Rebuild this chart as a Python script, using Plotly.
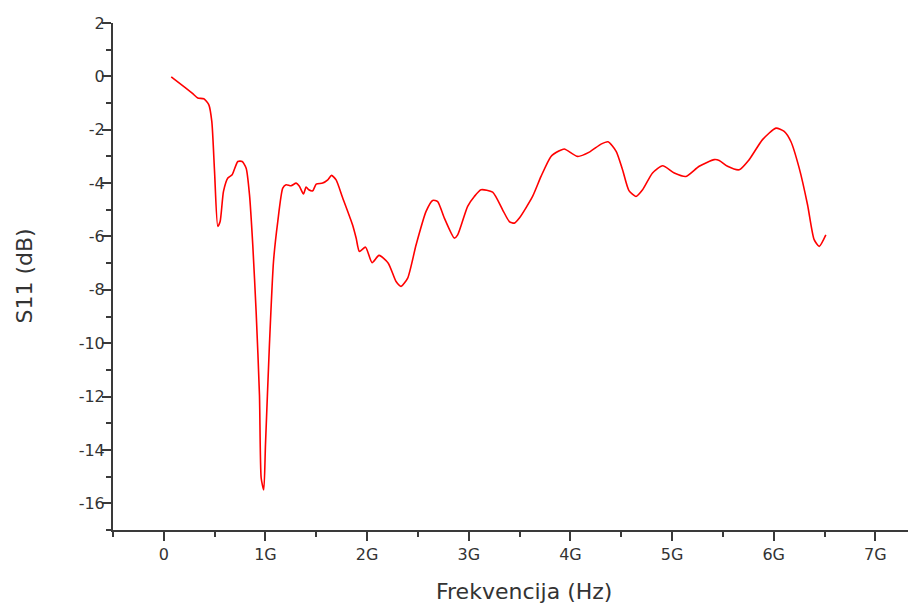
import plotly.graph_objects as go

# Frequency in GHz and S11 in dB
freq_ghz = [0.073, 0.22, 0.285, 0.334, 0.393, 0.442, 0.472, 0.499, 0.531, 0.554, 0.587, 0.630,
            0.672, 0.728, 0.771, 0.810, 0.843, 0.875, 0.908, 0.941, 0.958, 0.983, 1.0, 1.039,
            1.079, 1.121, 1.170, 1.203, 1.252, 1.302, 1.334, 1.374, 1.400, 1.426, 1.465, 1.499,
            1.563, 1.613, 1.650, 1.695, 1.760, 1.858, 1.892, 1.924, 1.985, 2.049, 2.117, 2.208,
            2.285, 2.334, 2.399, 2.482, 2.580, 2.645, 2.694, 2.760, 2.858, 2.891, 2.989, 3.055,
            3.121, 3.235, 3.333, 3.399, 3.448, 3.498, 3.628, 3.711, 3.809, 3.891, 3.940, 4.071,
            4.186, 4.301, 4.370, 4.450, 4.513, 4.576, 4.645, 4.710, 4.808, 4.907, 5.022, 5.137,
            5.267, 5.415, 5.464, 5.546, 5.661, 5.759, 5.890, 6.022, 6.103, 6.169, 6.251, 6.333,
            6.398, 6.448, 6.513]
s11_db = [-0.02, -0.45, -0.65, -0.81, -0.84, -1.06, -1.69, -3.56, -5.62, -5.44, -4.31, -3.81,
          -3.69, -3.19, -3.19, -3.44, -4.44, -6.31, -8.81, -11.94, -15.06, -15.5, -13.81, -10.06,
          -6.94, -5.44, -4.19, -4.06, -4.10, -4.0, -4.12, -4.41, -4.15, -4.25, -4.29, -4.04,
          -4.0, -3.88, -3.71, -3.88, -4.56, -5.58, -6.06, -6.56, -6.40, -6.98, -6.71, -7.0,
          -7.69, -7.87, -7.56, -6.31, -5.06, -4.65, -4.69, -5.31, -6.06, -5.94, -4.87, -4.5,
          -4.25, -4.34, -5.0, -5.44, -5.5, -5.31, -4.5, -3.75, -3.0, -2.79, -2.72, -3.0,
          -2.84, -2.54, -2.45, -2.81, -3.5, -4.28, -4.5, -4.25, -3.62, -3.35, -3.62, -3.75,
          -3.37, -3.12, -3.15, -3.37, -3.5, -3.12, -2.37, -1.94, -2.06, -2.44, -3.44, -4.81,
          -6.12, -6.37, -5.94]

x_tickvals = [0, 1, 2, 3, 4, 5, 6, 7]
x_ticktext = ["0", "1G", "2G", "3G", "4G", "5G", "6G", "7G"]
y_tickvals = [2, 0, -2, -4, -6, -8, -10, -12, -14, -16]
y_ticktext = ["2", "0", "-2", "-4", "-6", "-8", "-10", "-12", "-14", "-16"]
x_title = "Frekvencija (Hz)"
y_title = "S11 (dB)"

FONT = "DejaVu Sans, Verdana, sans-serif"

fig = go.Figure()
fig.add_trace(go.Scatter(
    x=freq_ghz, y=s11_db, mode="lines",
    line=dict(color="#ff0000", width=1.6, shape="spline", smoothing=0.6),
    showlegend=False, hoverinfo="skip",
))

axis_common = dict(
    showline=True, linecolor="#3a3a3a", linewidth=2, mirror=False,
    ticks="outside", ticklen=9, tickwidth=1.5, tickcolor="#3a3a3a",
    showgrid=False, zeroline=False, automargin=False,
    tickfont=dict(family=FONT, size=16, color="#333333"),
)

# page body has an 8px default margin, so the figure is 8px smaller than the window
fig.update_layout(
    width=908, height=602,
    margin=dict(l=105, r=0, t=15, b=80),
    paper_bgcolor="white", plot_bgcolor="white",
    xaxis=dict(
        range=[-0.5, 7.4], tickvals=x_tickvals, ticktext=x_ticktext,
        minor=dict(dtick=0.5, tick0=0, ticks="outside", ticklen=5, tickcolor="#3a3a3a", tickwidth=1.5),
        **axis_common,
    ),
    yaxis=dict(
        range=[-17, 2], tickvals=y_tickvals, ticktext=y_ticktext, ticklabelstandoff=-6,
        minor=dict(dtick=1, tick0=1, ticks="outside", ticklen=5, tickcolor="#3a3a3a", tickwidth=1.5),
        **axis_common,
    ),
    annotations=[
        dict(text=x_title, xref="paper", yref="paper", x=0.512, y=0, yshift=-61,
             xanchor="center", yanchor="middle", showarrow=False,
             font=dict(family=FONT, size=22, color="#333333")),
        dict(text=y_title, xref="paper", yref="paper", x=0, y=0.5, xshift=-89,
             xanchor="center", yanchor="middle", textangle=-90, showarrow=False,
             font=dict(family=FONT, size=22, color="#333333")),
    ],
)

fig.write_html("out.html")
